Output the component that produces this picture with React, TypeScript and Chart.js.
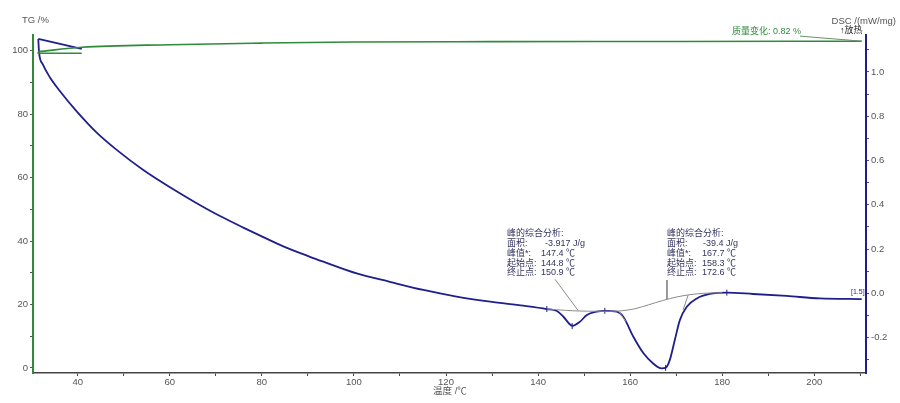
import React, { useEffect, useRef } from "react";
import { Chart, registerables } from "chart.js";
Chart.register(...registerables);

const FONT = "'Liberation Sans', Arial, 'Noto Sans CJK SC', sans-serif";

// TG (%) vs temperature (°C) – left axis (start segment, then heating)
const tgStartTemp = [40.87, 31.44, 31.44];
const tgStartValue = [99.18, 99.18, 99.7];
const tgTemp = [31.44, 40.87, 60, 80, 100, 130, 170, 210.3];
const tgValue = [99.7, 101.07, 101.9, 102.4, 102.75, 102.85, 102.92, 103.0];

// DSC start-up segment (mW/mg) – right axis
const dscStartTemp = [40.87, 31.44];
const dscStartValue = [1.104, 1.149];

// DSC main curve (mW/mg) – right axis
const dscTemp = [
  31.44, 31.6, 32.4, 33.98, 36.16, 39.78, 44.13, 48.47, 54.25, 60.76, 65.85, 70.91, 75.97,
  80.31, 84.66, 90.45, 93.35, 100.6, 107.8, 115.1, 122.3, 129.6, 136.8, 141.9, 144.1, 145.5, 147.5,
  149.1, 150.6, 152.7, 154.5, 157.1, 158.5, 160.7, 162.9, 165.0, 166.8, 167.7, 168.6, 169.7, 170.8,
  172.3, 174.5, 177.3, 181.0, 186.7, 194.0, 201.2, 210.3,
];
const dscValue = [
  1.149, 1.09, 1.035, 0.975, 0.913, 0.822, 0.726, 0.648, 0.557, 0.47, 0.407, 0.349, 0.297,
  0.254, 0.212, 0.165, 0.143, 0.09, 0.052, 0.015, -0.015, -0.038, -0.056, -0.071, -0.08, -0.106, -0.147,
  -0.128, -0.098, -0.083, -0.079, -0.083, -0.106, -0.196, -0.271, -0.317, -0.339, -0.337, -0.302, -0.211, -0.121,
  -0.061, -0.023, -0.003, 0.003, -0.003, -0.012, -0.023, -0.026,
];

// integration baseline (gray)
const baseTemp = [141.9, 146, 149, 153, 157.5, 161, 164, 167, 170, 173, 176, 180];
const baseValue = [-0.071, -0.077, -0.08, -0.081, -0.08, -0.07, -0.052, -0.033, -0.017, -0.006, 0, 0.003];

// leader / tangent lines
const leader1Temp = [143.7, 148.7];
const leader1Value = [0.063, -0.078];
const leader2Temp = [168.0, 168.0];
const leader2Value = [0.06, -0.026];
const tangent1Temp = [157.6, 159.1];
const tangent1Value = [-0.083, -0.128];
const tangent2Temp = [171.5, 172.6];
const tangent2Value = [-0.075, -0.008];

// marker crosses on DSC
const markTemp = [141.9, 147.4, 154.5, 167.7, 181.0];
const markValue = [-0.071, -0.148, -0.079, -0.337, 0.003];

// mass change leader
const massLeaderTemp = [196.9, 210.3];
const massLeaderValue = [104.6, 103.0];

const peak1Labels = ["峰的综合分析:", "面积:", "峰值*:", "起始点:", "终止点:"];
const peak1Values = ["", "-3.917 J/g", "147.4 ℃", "144.8 ℃", "150.9 ℃"];
const peak2Labels = ["峰的综合分析:", "面积:", "峰值*:", "起始点:", "终止点:"];
const peak2Values = ["", "-39.4 J/g", "167.7 ℃", "158.3 ℃", "172.6 ℃"];

const zip = (xs: number[], ys: number[]) => xs.map((x, i) => ({ x, y: ys[i] }));

const GREEN = "#2f8a3a";
const NAVY = "#1f1f8c";
const GRAY = "#8a8a8a";

export default function App() {
  const ref = useRef<HTMLCanvasElement | null>(null);
  useEffect(() => {
    if (!ref.current) return;
    const textPlugin = {
      id: "texts",
      afterDraw(chart: any) {
        const ctx = chart.ctx as CanvasRenderingContext2D;
        ctx.save();
        ctx.textBaseline = "middle";
        ctx.font = `9.5px ${FONT}`;
        ctx.fillStyle = "#555";
        ctx.textAlign = "left";
        ctx.fillText("TG /%", 22, 20);
        ctx.fillText("温度 /℃", 433, 391);
        ctx.textAlign = "right";
        ctx.fillText("DSC /(mW/mg)", 896, 21);
        ctx.textAlign = "left";
        ctx.fillStyle = "#222";
        ctx.font = `9px ${FONT}`;
        ctx.fillText("↑放热", 840, 31);
        ctx.fillStyle = GREEN;
        ctx.fillText("质量变化: 0.82 %", 732, 32);
        ctx.fillStyle = "#34345e";
        const ys = [234, 244, 253.5, 263.5, 273];
        peak1Labels.forEach((t, i) => ctx.fillText(t, 507, ys[i]));
        peak1Values.forEach((t, i) => ctx.fillText(t, i === 1 ? 545 : 541, ys[i]));
        peak2Labels.forEach((t, i) => ctx.fillText(t, 667, ys[i]));
        peak2Values.forEach((t, i) => ctx.fillText(t, i === 1 ? 703 : 702, ys[i]));
        ctx.font = `7px ${FONT}`;
        ctx.fillStyle = NAVY;
        ctx.fillText("[1.5]", 851, 292);
        ctx.restore();
      },
    };
    const line = (data: any[], color: string, width: number, yAxisID: string, extra: any = {}) => ({
      data,
      borderColor: color,
      backgroundColor: color,
      borderWidth: width,
      showLine: true,
      pointRadius: 0,
      yAxisID,
      ...extra,
    });
    const tickFont = { family: FONT, size: 9.5 };
    const chart = new Chart(ref.current, {
      type: "scatter",
      data: {
        datasets: [
          line(zip(baseTemp, baseValue), GRAY, 1, "y1", { tension: 0.3 }),
          line(zip(leader1Temp, leader1Value), GRAY, 1, "y1"),
          line(zip(leader2Temp, leader2Value), GRAY, 1, "y1"),
          line(zip(tangent1Temp, tangent1Value), GRAY, 1, "y1"),
          line(zip(tangent2Temp, tangent2Value), GRAY, 1, "y1"),
          line(zip(massLeaderTemp, massLeaderValue), "#6a8f6a", 1, "y"),
          line(zip(tgStartTemp, tgStartValue), GREEN, 1.6, "y"),
          line(zip(tgTemp, tgValue), GREEN, 1.6, "y", { cubicInterpolationMode: "monotone" }),
          line(zip(dscStartTemp, dscStartValue), NAVY, 1.8, "y1"),
          line(zip(dscTemp, dscValue), NAVY, 1.8, "y1", { cubicInterpolationMode: "monotone" }),
          {
            data: zip(markTemp, markValue),
            yAxisID: "y1",
            showLine: false,
            pointStyle: "line",
            rotation: 90,
            pointRadius: 3,
            borderColor: NAVY,
            borderWidth: 1,
          },
        ],
      },
      options: {
        responsive: false,
        animation: false,
        layout: { padding: { top: 35, left: 0, right: 0, bottom: 0 } },
        plugins: { legend: { display: false }, tooltip: { enabled: false } },
        scales: {
          x: {
            type: "linear",
            min: 30.29,
            max: 211.23,
            afterFit: (s: any) => { s.height = 30; },
            border: { display: true, color: "#444", width: 1.5 },
            grid: { display: true, drawOnChartArea: false, drawTicks: true, tickLength: 3, color: "#444" },
            ticks: {
              stepSize: 10,
              includeBounds: false,
              padding: 1,
              color: "#555",
              font: tickFont,
              maxRotation: 0,
              autoSkip: false,
              callback: (v: any) => (Math.round(v) % 20 === 0 ? String(Math.round(v)) : ""),
            },
          },
          y: {
            type: "linear",
            position: "left",
            min: -1.58,
            max: 104.95,
            afterFit: (s: any) => { s.width = 33; },
            border: { display: true, color: GREEN, width: 2 },
            grid: { display: true, drawOnChartArea: false, drawTicks: true, tickLength: 3, color: "#555" },
            ticks: {
              stepSize: 10,
              includeBounds: false,
              padding: 2,
              color: "#555",
              font: tickFont,
              autoSkip: false,
              callback: (v: any) => (Math.round(v) % 20 === 0 ? String(Math.round(v)) : ""),
            },
          },
          y1: {
            type: "linear",
            position: "right",
            min: -0.36,
            max: 1.167,
            afterFit: (s: any) => { s.width = 34; },
            border: { display: true, color: NAVY, width: 2 },
            grid: { display: true, drawOnChartArea: false, drawTicks: true, tickLength: 3, color: "#555" },
            ticks: {
              stepSize: 0.1,
              includeBounds: false,
              padding: 2,
              color: "#555",
              font: tickFont,
              autoSkip: false,
              callback: (v: any) => {
                const k = Math.round(v * 10);
                return k % 2 === 0 ? (k / 10).toFixed(1) : "";
              },
            },
          },
        },
      },
      plugins: [textPlugin],
    } as any);
    return () => chart.destroy();
  }, []);
  return (
    <div style={{ position: "absolute", left: 0, top: 0, width: 900, height: 403, background: "#fff" }}>
      <canvas ref={ref} width={900} height={403} style={{ display: "block" }} />
    </div>
  );
}
